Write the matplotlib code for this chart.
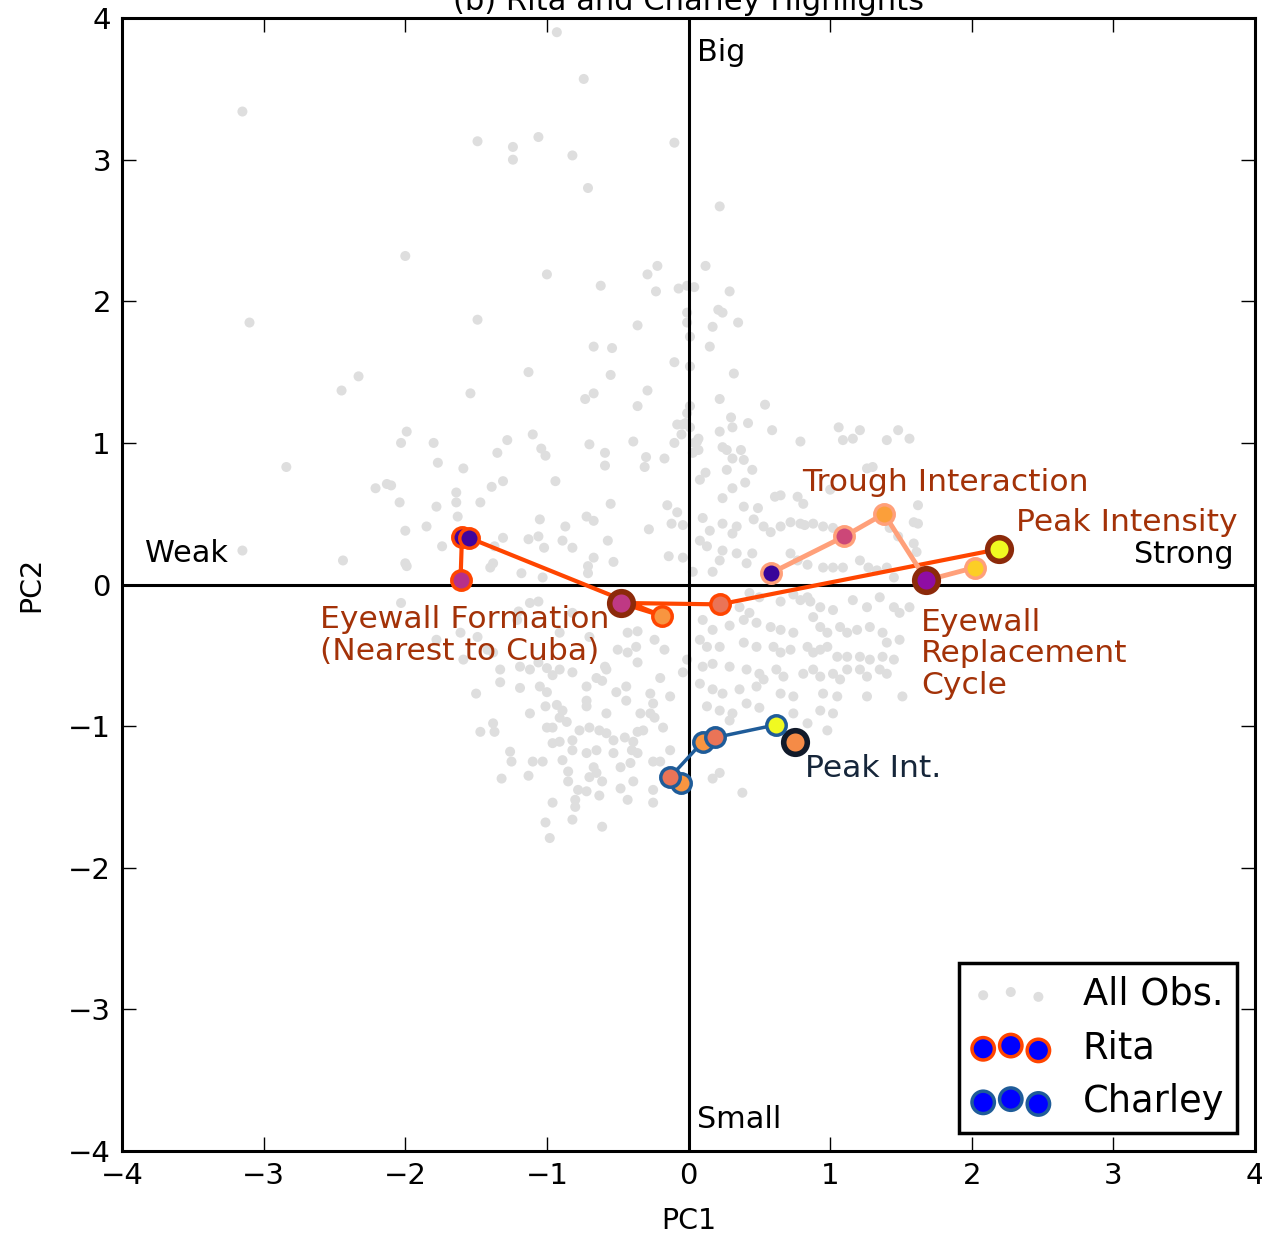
import matplotlib
matplotlib.use("Agg")
import matplotlib.pyplot as plt
from matplotlib import cm

# all observations in PC space (PC1, PC2)
obs_pc1 = [
    -3.15, -1.49, -1.24, -1.24, -1.06, -0.82, -0.71, -0.10, 0.22, -0.74, -0.93,
    -2.00, -3.10, -1.00, -0.62, -0.29, -0.22, -0.23, -0.07, -0.01, 0.04, 0.12,
    0.29, 0.21, 0.24, -0.01, -0.01, 0.01, 0.17, 0.35, -1.49, -0.36, -0.67,
    -0.54, 0.15, -0.10, 0.01, 0.32, -1.13, -0.55, -2.33, -2.45, -1.54, -0.67,
    -0.73, -0.29, -0.36, 0.01, 0.22, 0.30, 0.31, 0.22, -0.08, -0.04, 0.01,
    -0.05, 0.07, 0.06, -0.10, -0.39, -0.70, -0.59, -1.10, -1.28, -1.35, -1.04,
    -1.01, -1.99, -2.03, -1.80, 0.24, 0.27, 0.03, -0.30, -0.17,
    -1.77, -1.59, -0.59, -0.31, -2.21, -2.13, -2.10, -2.04, -1.64, -1.64,
    -1.47, -1.39, -1.31, -0.94, -1.78, -1.63, -2.00, -1.85, -1.74, -2.44,
    -1.99, -2.03, -1.05, -0.87, -0.72, -0.67, -1.13, -1.06, -0.89, -0.82,
    -1.02, -1.31, -1.37, -1.38, -1.40, -1.18, -1.03, -0.67, -0.71, -0.71,
    -0.53, -0.57, -0.55, -0.28, -0.15, -0.08, -0.12, -0.14, -0.04, -0.04,
    -2.84, -3.15, -2.00,
    -1.12, -1.06, -1.20, -1.61, -0.43, -0.36, -0.24, -0.17, -0.50, -0.43,
    -0.37, -0.59, -0.58, -0.36, -0.20, -0.04, -1.33, -1.42, -1.38, -1.19,
    -1.12, -1.06, -1.00, -0.91, -0.82, -0.96, -1.33, -0.65, -0.61, -1.19,
    -1.05, -1.00, -0.72, -1.50, -0.93, -0.89, -1.12, -1.01, -0.72, -0.72,
    -0.58, -0.51, -0.44, -0.44, -0.34, -0.27, -0.25, -0.24, -0.27, -0.13,
    -0.91, -0.86, -1.00, -0.96, -0.77, -0.70, -0.63, -0.58, -0.53, -0.45,
    -0.39, -0.36, -0.32, -0.18, -1.38, -1.37, -1.47, -1.26, -1.25, -1.10,
    -1.03, -0.96, -0.91, -0.82, -0.82, -0.89, -0.72, -0.65, -0.67, -0.65,
    -0.53, -0.48, -0.40, -0.36, -0.41, -0.25, -0.20, -0.13, -1.13, -1.32,
    -0.85, -0.85, -0.70, -0.61, -0.48, -0.39, -0.25, -0.25, -0.78, -0.72,
    -0.63, -0.43, -0.96, -0.80, -0.80, -0.82, -1.01, -0.61, -0.98,
    -1.21, -0.82, -0.91, -0.70, -1.78, -1.49, -1.59,
    0.54, 0.42, 0.59, 0.37, 0.39, 0.31, 0.79, 1.06, 1.09, 1.16, 1.21, 1.40,
    1.48, 1.56, 0.04, 0.07, -0.02, -0.01, 0.12, 0.08, 0.27, 0.45, 0.40, 0.31,
    0.24, 0.65, 0.61, 0.77, 0.81, 1.26, 1.30, 1.00, 0.39, 0.49, 1.62, 0.10,
    0.15, 0.24, 0.34, 0.31, 0.46, 0.53, 0.58, 0.65, 0.72, 0.79, 0.82, 0.88,
    0.95, 1.02, 1.59, 1.62, 1.42, 1.48, 1.59, 1.61, 0.08, 0.13, 0.24, 0.22,
    0.34, 0.45, 0.41, 0.72, 0.77, 0.84, 0.95, 1.02, 1.09, 1.21, 1.27, 1.33,
    1.40, 0.03, 0.17, 1.45,
    0.43, 0.50, 0.65, 0.74, 0.79, 0.84, 0.86, 0.93, 1.02, 1.16, 1.26, 1.35,
    1.45, 1.49, 1.56, 0.36, 0.43, 0.10, 0.17, 0.29, 0.39, 0.48, 0.58, 0.65,
    0.74, 0.88, 0.93, 0.98, 1.07, 1.12, 1.19, 1.28, 1.37, 1.40, 1.49, 0.08,
    0.13, 0.22, 0.39, 0.48, 0.60, 0.65, 0.72, 0.84, 0.88, 0.93, 0.98, 1.05,
    1.12, 1.21, 1.28, 1.37, 1.45, -0.01, 0.10, 0.17, 0.29, 0.41, 0.50, 0.53,
    0.62, 0.67, 0.81, 0.88, 0.93, 1.02, 1.07, 1.12, 1.21, 1.26, 1.35, 1.40,
    0.08, 0.17, 0.24, 0.36, 0.48, 0.65, 0.74, 0.95, 1.05, 1.26, 1.51, 0.13,
    0.22, 0.31, 0.41, 0.50, 0.74, 0.84, 0.93, 1.02, 0.29, 0.98, 0.17, 0.22,
    0.38,
]
obs_pc2 = [
    3.34, 3.13, 3.09, 3.00, 3.16, 3.03, 2.80, 3.12, 2.67, 3.57, 3.90,
    2.32, 1.85, 2.19, 2.11, 2.19, 2.25, 2.07, 2.09, 2.11, 2.10, 2.25,
    2.07, 1.94, 1.92, 1.92, 1.85, 1.75, 1.82, 1.85, 1.87, 1.83, 1.68,
    1.67, 1.68, 1.57, 1.54, 1.49, 1.50, 1.48, 1.47, 1.37, 1.35, 1.35,
    1.31, 1.37, 1.26, 1.26, 1.31, 1.18, 1.11, 1.08, 1.13, 1.13, 1.11,
    1.06, 1.03, 1.01, 1.00, 1.01, 0.99, 0.93, 1.06, 1.02, 0.93, 0.96,
    0.91, 1.08, 1.00, 1.00, 0.97, 0.95, 0.93, 0.90, 0.89,
    0.86, 0.82, 0.84, 0.83, 0.68, 0.71, 0.70, 0.58, 0.65, 0.58,
    0.58, 0.69, 0.73, 0.73, 0.55, 0.48, 0.38, 0.41, 0.27, 0.17,
    0.13, -0.13, 0.46, 0.41, 0.48, 0.45, 0.32, 0.34, 0.31, 0.26,
    0.26, 0.33, 0.27, 0.15, 0.12, 0.08, 0.05, 0.19, 0.13, 0.08,
    0.16, 0.31, 0.57, 0.39, 0.56, 0.51, 0.43, 0.20, 0.19, 0.42,
    0.83, 0.24, 0.15,
    -0.13, -0.12, -0.19, -0.34, -0.34, -0.33, -0.39, -0.46, -0.46, -0.48,
    -0.44, -0.58, -0.60, -0.55, -0.66, -0.62, -0.60, -0.46, -0.48, -0.58,
    -0.60, -0.55, -0.59, -0.60, -0.62, -0.64, -0.69, -0.66, -0.68, -0.73,
    -0.72, -0.76, -0.72, -0.77, -0.85, -0.89, -0.91, -0.86, -0.82, -0.86,
    -0.91, -0.76, -0.72, -0.82, -0.91, -0.91, -0.84, -0.94, -0.77, -0.79,
    -0.94, -0.97, -1.01, -1.01, -1.03, -1.01, -1.03, -1.05, -1.10, -1.08,
    -1.11, -1.04, -1.03, -1.01, -0.98, -1.04, -1.04, -1.18, -1.25, -1.25,
    -1.25, -1.12, -1.11, -1.10, -1.17, -1.24, -1.19, -1.17, -1.29, -1.33,
    -1.19, -1.29, -1.17, -1.19, -1.26, -1.25, -1.25, -1.17, -1.35, -1.37,
    -1.32, -1.39, -1.36, -1.39, -1.44, -1.39, -1.45, -1.54, -1.45, -1.46,
    -1.49, -1.52, -1.54, -1.52, -1.57, -1.66, -1.68, -1.71, -1.79,
    -0.25, -0.20, -0.34, -0.37, -0.39, -0.37, -0.53,
    1.27, 1.14, 1.09, 0.95, 0.88, 0.89, 1.01, 1.11, 1.02, 1.03, 1.09, 1.02,
    1.09, 1.03, 1.00, 0.95, 1.14, 1.21, 0.79, 0.74, 0.81, 0.81, 0.72, 0.68,
    0.61, 0.63, 0.62, 0.62, 0.57, 0.82, 0.83, 0.67, 0.55, 0.54, 0.56, 0.47,
    0.38, 0.43, 0.41, 0.36, 0.46, 0.41, 0.37, 0.41, 0.44, 0.43, 0.42, 0.43,
    0.41, 0.40, 0.44, 0.43, 0.40, 0.34, 0.29, 0.23, 0.31, 0.27, 0.24, 0.17,
    0.22, 0.22, 0.15, 0.22, 0.17, 0.14, 0.12, 0.12, 0.12, 0.17, 0.12, 0.10,
    0.12, 0.09, 0.09, 0.05,
    -0.06, -0.09, -0.12, -0.07, -0.11, -0.09, -0.12, -0.16, -0.18, -0.11, -0.16, -0.09,
    -0.16, -0.20, -0.16, -0.16, -0.20, -0.25, -0.32, -0.29, -0.25, -0.27, -0.30, -0.32,
    -0.34, -0.23, -0.30, -0.34, -0.30, -0.34, -0.32, -0.30, -0.34, -0.41, -0.39, -0.39,
    -0.44, -0.44, -0.41, -0.44, -0.44, -0.48, -0.46, -0.44, -0.48, -0.46, -0.44, -0.51,
    -0.51, -0.51, -0.53, -0.51, -0.53, -0.53, -0.58, -0.56, -0.58, -0.60, -0.63, -0.67,
    -0.60, -0.65, -0.63, -0.60, -0.65, -0.63, -0.67, -0.60, -0.60, -0.65, -0.60, -0.63,
    -0.70, -0.74, -0.77, -0.74, -0.72, -0.77, -0.79, -0.77, -0.79, -0.79, -0.79, -0.86,
    -0.89, -0.91, -0.84, -0.87, -0.91, -0.98, -0.89, -0.91, -0.96, -1.03, -1.37, -1.33,
    -1.47,
]

# Rita: approach to peak, then the later part of the track
rita1_pc1 = [-1.61, -1.60, -1.55, -0.19, -0.48, 0.22, 2.19]
rita1_pc2 = [0.03, 0.335, 0.33, -0.22, -0.13, -0.14, 0.25]
rita1_col = [0.42, 0.10, 0.10, 0.75, 0.45, 0.65, 1.00]
rita1_key = [False, False, False, False, True, False, True]

rita2_pc1 = [2.02, 1.68, 1.38, 1.10, 0.58]
rita2_pc2 = [0.12, 0.03, 0.50, 0.34, 0.08]
rita2_col = [0.90, 0.30, 0.78, 0.50, 0.08]
rita2_key = [False, True, False, False, False]

# Charley
charley_pc1 = [-0.05, -0.13, 0.10, 0.19, 0.62, 0.75]
charley_pc2 = [-1.40, -1.36, -1.11, -1.08, -0.99, -1.11]
charley_col = [0.75, 0.65, 0.75, 0.65, 1.00, 0.72]
charley_key = [False, False, False, False, False, True]

fig = plt.figure(figsize=(12.62, 12.37), dpi=100)
ax = fig.add_axes([0.0967, 0.0695, 0.8978, 0.9159])

ax.scatter(obs_pc1, obs_pc2, s=52, color="#dedede", edgecolors="none",
           zorder=1, label="All Obs.")
ax.axhline(0, color="k", lw=2.2, zorder=2)
ax.axvline(0, color="k", lw=2.2, zorder=2)


def draw_track(xs, ys, cols, key, line_col, edge_col, key_edge, lw):
    ax.plot(xs, ys, color=line_col, lw=lw, zorder=3, solid_capstyle="round")
    for x, y, c, k in zip(xs, ys, cols, key):
        if k:
            ax.plot(x, y, "o", ms=17, mfc=cm.plasma(c), mec=key_edge,
                    mew=4, zorder=4)
        else:
            ax.plot(x, y, "o", ms=14, mfc=cm.plasma(c), mec=edge_col,
                    mew=2.5, zorder=5)


draw_track(rita1_pc1, rita1_pc2, rita1_col, rita1_key,
           "orangered", "orangered", "#8c2a0a", 3.0)
draw_track(rita2_pc1, rita2_pc2, rita2_col, rita2_key,
           "lightsalmon", "lightsalmon", "#8c2a0a", 3.5)
draw_track(charley_pc1, charley_pc2, charley_col, charley_key,
           "#1f5c99", "#1f5c99", "#111a2a", 2.5)

# legend proxies
ax.scatter([], [], s=260, color="blue", edgecolors="orangered",
           linewidths=2.5, label="Rita")
ax.scatter([], [], s=260, color="blue", edgecolors="#1f5c99",
           linewidths=2.5, label="Charley")

ann = "#a33208"
ax.text(0.80, 0.72, "Trough Interaction", color=ann, fontsize=22.6,
        va="center", zorder=6)
ax.text(2.31, 0.44, "Peak Intensity", color=ann, fontsize=22.6,
        va="center", zorder=6)
ax.text(-2.60, -0.36, "Eyewall Formation\n(Nearest to Cuba)", color=ann,
        fontsize=22.6, va="center", linespacing=1.12, zorder=6)
ax.text(1.64, -0.49, "Eyewall\nReplacement\nCycle", color=ann,
        fontsize=22.6, va="center", linespacing=1.12, zorder=6)
ax.text(0.82, -1.30, "Peak Int.", color="#16263a", fontsize=22.6,
        va="center", zorder=6)

ax.text(0.06, 3.76, "Big", fontsize=21.8, va="center")
ax.text(0.06, -3.78, "Small", fontsize=21.8, va="center")
ax.text(-3.84, 0.22, "Weak", fontsize=21.8, va="center")
ax.text(3.85, 0.21, "Strong", fontsize=21.8, va="center", ha="right")

ax.set_xlim(-4, 4)
ax.set_ylim(-4, 4)
ax.set_xticks(range(-4, 5))
ax.set_yticks(range(-4, 5))
ax.tick_params(direction="in", top=True, right=True, length=10, width=1,
               labelsize=21, pad=8)
for sp in ax.spines.values():
    sp.set_linewidth(2.2)
ax.set_xlabel("PC1", fontsize=20.5, labelpad=12)
ax.set_ylabel("PC2", fontsize=20.5, labelpad=16)
ax.set_title("(b) Rita and Charley Highlights", fontsize=22)

leg = ax.legend(loc="lower right", bbox_to_anchor=(0.984, 0.016),
                borderaxespad=0, fontsize=26.5, scatterpoints=3,
                fancybox=False, framealpha=1, edgecolor="k",
                handletextpad=0.9, borderpad=0.35, labelspacing=0.45,
                handlelength=2.1)
leg.get_frame().set_linewidth(2.5)

fig.savefig("out.png", dpi=100)
